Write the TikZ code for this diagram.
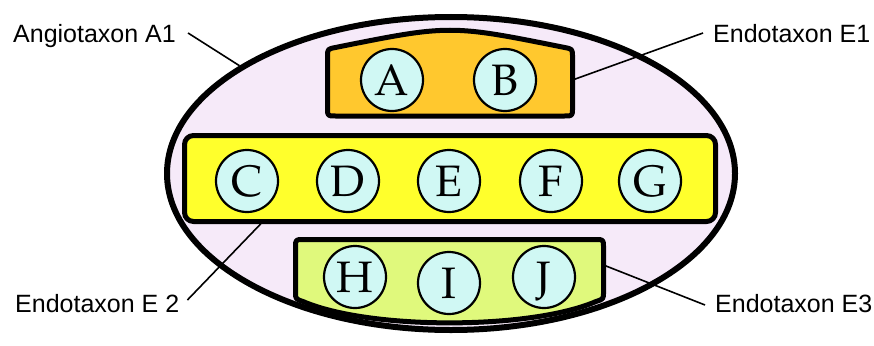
\documentclass[tikz,border=0pt]{standalone}
\usepackage{fontspec}
\setmainfont{Liberation Sans}
\newfontfamily\letterfont{TeX Gyre Pagella}
\usetikzlibrary{shapes.geometric,calc}

\definecolor{lavfill}{HTML}{F6EAF9}
\definecolor{orangefill}{HTML}{FFC82E}
\definecolor{yellowfill}{HTML}{FFFF2C}
\definecolor{limefill}{HTML}{E0F97C}
\definecolor{cyanfill}{HTML}{D0F8F4}

\tikzset{
  taxon/.style={circle, draw=black, line width=2.2pt, fill=cyanfill,
    minimum size=62pt, inner sep=0pt, text height=30pt, text depth=0pt,
    font=\letterfont\fontsize{44}{44}\selectfont},
  groupbox/.style={draw=black, line width=5pt, line join=round},
  tag/.style={font=\fontsize{25}{30}\selectfont, inner sep=0pt, anchor=base west},
  pin/.style={draw=black, line width=1.6pt}
}

\begin{document}
\begin{tikzpicture}[x=1pt,y=-1pt]
\useasboundingbox (0,0) rectangle (874,345);

% outer angiotaxon
\node[ellipse, draw=black, line width=6pt, fill=lavfill,
      minimum width=568pt, minimum height=313pt, inner sep=0pt] (A1) at (451,173.5) {};

% endotaxon E1: arched top, rounded corners
\path[groupbox, fill=orangefill]
  (327.5,57) .. controls (327.5,49) .. (335.5,47.5)
  .. controls (450,24.5) .. (564.5,47.5)
  .. controls (572.5,49) .. (572.5,57)
  -- (572.5,108) .. controls (572.5,116) .. (564.5,116)
  -- (335.5,116) .. controls (327.5,116) .. (327.5,108) -- cycle;

% endotaxon E2
\path[groupbox, fill=yellowfill, rounded corners=9pt] (184.5,135.5) rectangle (715.5,221.5);

% endotaxon E3: arched bottom, rounded corners
\path[groupbox, fill=limefill]
  (295.5,247.5) .. controls (295.5,239.5) .. (303.5,239.5)
  -- (595.5,239.5) .. controls (603.5,239.5) .. (603.5,247.5)
  -- (603.5,292) .. controls (603.5,299) .. (596,301.5)
  .. controls (530,330) and (369,330) .. (303,301.5)
  .. controls (295.5,299) .. (295.5,292) -- cycle;

% members
\node[taxon] (A) at (392,80) {A};
\node[taxon] (B) at (505,80) {B};
\node[taxon] (C) at (247,181) {C};
\node[taxon] (D) at (348,181) {D};
\node[taxon] (E) at (449,181) {E};
\node[taxon] (F) at (551,181) {F};
\node[taxon] (G) at (650,181) {G};
\node[taxon] (H) at (355,277) {H};
\node[taxon] (I) at (449,283) {I};
\node[taxon] (J) at (544,277) {J};

% labels
\node[tag] (lblA1) at (13,42) {Angiotaxon A1};
\node[tag] (lblE1) at (713,42) {Endotaxon E1};
\node[tag] (lblE2) at (15,312) {Endotaxon E 2};
\node[tag] (lblE3) at (715,312) {Endotaxon E3};

% points where the label lines touch the groups
\coordinate (e1pin) at (572.5,80);
\coordinate (e2pin) at (263,221.5);
\coordinate (e3pin) at (603.5,265);

\draw[pin] ($(lblA1.base east)+(12,-9)$) -- (A1.153.5);
\draw[pin] ($(lblE1.base west)+(-10,-9)$) -- (e1pin);
\draw[pin] ($(lblE2.base east)+(8,-12)$) -- (e2pin);
\draw[pin] ($(lblE3.base west)+(-10,-7)$) -- (e3pin);
\end{tikzpicture}
\end{document}
